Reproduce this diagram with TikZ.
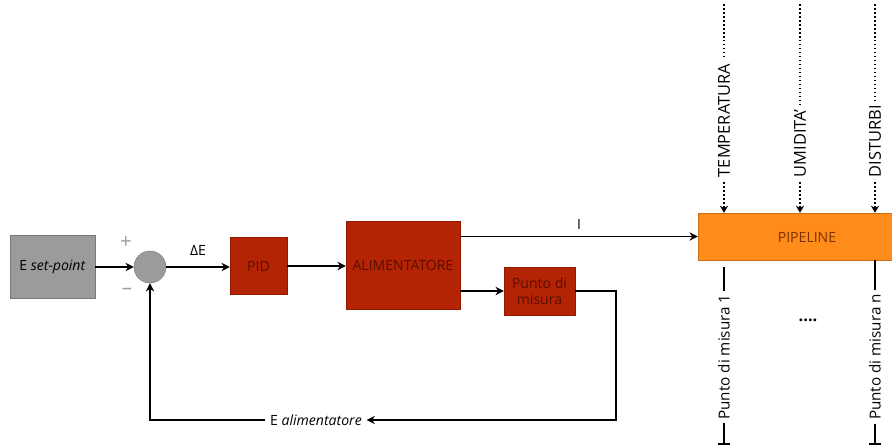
\documentclass[tikz,border=0pt]{standalone}
\usepackage{fontspec}
\setmainfont{Open Sans}
\usetikzlibrary{arrows.meta}

\definecolor{grigio}{RGB}{155,155,155}
\definecolor{grigiobordo}{RGB}{120,120,120}
\definecolor{rosso}{RGB}{180,36,4}
\definecolor{rossobordo}{RGB}{140,26,0}
\definecolor{rossotesto}{RGB}{90,14,0}
\definecolor{arancio}{RGB}{255,140,26}
\definecolor{aranciobordo}{RGB}{205,110,20}
\definecolor{aranciotesto}{RGB}{120,50,0}

\tikzset{
  blocco/.style={draw=rossobordo,fill=rosso,text=rossotesto,align=center,inner sep=1pt},
  freccia/.style={line width=1.5pt,-{Stealth[length=7pt,width=7pt]}},
  linea/.style={line width=1.5pt},
  disturbo/.style={line width=1.6pt,dash pattern=on 1.4pt off 2pt},
  verticale/.style={rotate=90,font=\fontsize{14}{16}\selectfont},
}

\begin{document}
\begin{tikzpicture}[x=0.3mm,y=-0.3mm,font=\fontsize{12}{14}\selectfont]
\useasboundingbox (0,0) rectangle (892,448);

% catena diretta
\node[draw=grigiobordo,fill=grigio,minimum width=25.5mm,minimum height=18.9mm] (setpoint) at (52.5,267) {E \textit{set-point}};
\node[circle,draw=grigiobordo,fill=grigio,minimum size=9.6mm] (somma) at (150,267) {};
\node[text=grigio,font=\LARGE] at (126,242) {+};
\node[text=grigio,font=\LARGE] at (127,291) {--};
\node[blocco,minimum width=17.1mm,minimum height=17.1mm] (pid) at (258.5,266) {PID};
\node[blocco,minimum width=34.2mm,minimum height=26.4mm] (alim) at (403,265) {ALIMENTATORE};
\node[blocco,minimum width=21.3mm,minimum height=14.4mm] (punto) at (539.5,291) {Punto di\\misura};
\node[draw=aranciobordo,fill=arancio,minimum width=60mm,minimum height=14.1mm] (pipeline) at (798,236.5) {};
\node[text=aranciotesto] at (807,237) {PIPELINE};

\draw[freccia] (setpoint.east |- somma) -- (somma);
\draw[freccia] (somma) -- node[above=6pt]{ΔE} (somma -| pid.west);
\draw[freccia] (pid.east) -- (pid.east -| alim.west);
\draw[freccia] (alim.east |- pipeline.west) -- node[above=2pt]{I} (pipeline.west);
\draw[freccia] (alim.east |- punto) -- (punto);

% retroazione
\coordinate (giu) at (616,420);
\node[inner sep=4pt] (ealim) at (316,420) {E \textit{alimentatore}};
\draw[freccia] (punto.east) -| (giu) -- (ealim.east);
\draw[freccia] (ealim.west) -| (somma.south);

% disturbi sulla pipeline
\foreach \x/\nome/\testo in {724/temp/TEMPERATURA,800/umid/UMIDITA',875/dist/DISTURBI}{
  \node[verticale,anchor=west,inner sep=4pt] (\nome) at (\x,182) {\testo};
  \coordinate (\nome alto) at (\x,4);
  \draw[disturbo] (\nome alto) -- (\nome.east);
  \draw[disturbo,-{Stealth[length=6pt,width=7pt]}] (\nome.west) -- (\nome.west |- pipeline.north);
}

% punti di misura
\foreach \x/\y/\nome/\n in {724/267/mis1/1,875/260/misn/n}{
  \node[verticale,fill=white,inner sep=3pt,font=\fontsize{13}{15}\selectfont] (\nome) at (\x,357) {Punto di misura \n};
  \coordinate (\nome su) at (\x,\y);
  \coordinate (\nome fine) at (\x,445);
  \draw[linea] (\nome su) -- (\nome.east);
  \draw[linea,-{Bar[width=10pt]}] (\nome.west) -- (\nome fine);
}
\node[font=\fontsize{14}{16}\bfseries] (puntini) at (808,320) {....};
\end{tikzpicture}
\end{document}
